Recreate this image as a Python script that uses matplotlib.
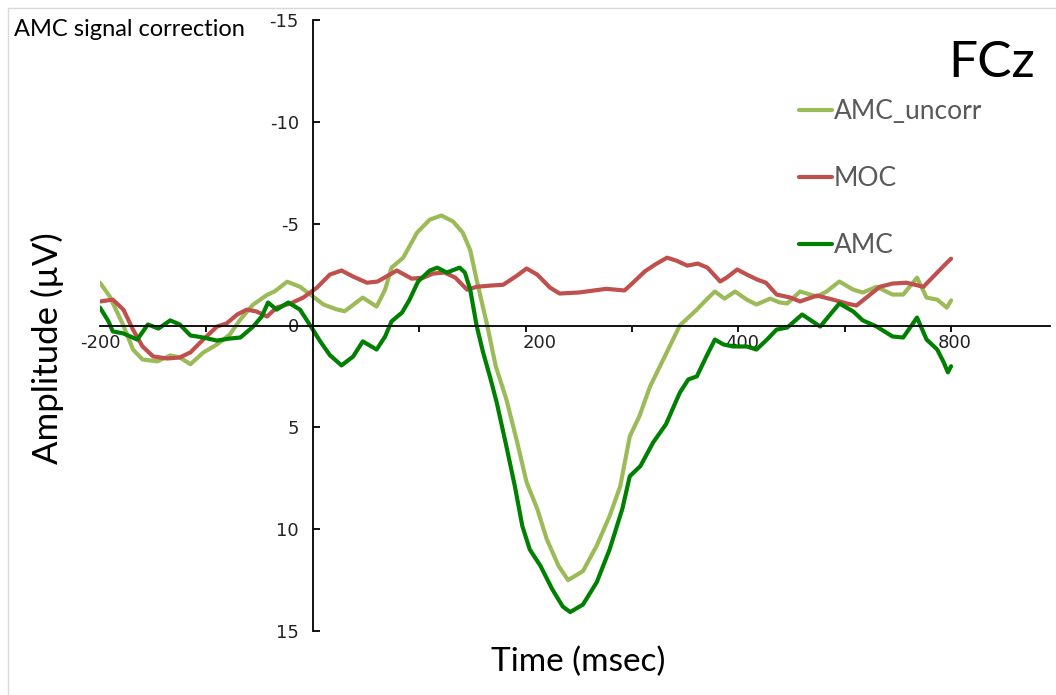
import matplotlib
matplotlib.use("Agg")
import matplotlib.pyplot as plt
from matplotlib.lines import Line2D

plt.rcParams['axes.unicode_minus'] = False

# AMC_uncorr (light green)
t_uncorr = [-200, -191, -178, -169, -160, -146, -134, -125, -115, -103, -90, -78, -68, -56,
            -43, -36, -24, -12, 0, 10, 22, 30, 47, 60, 68, 74, 85, 98, 110, 121, 132, 141,
            148, 154, 164, 172, 182, 192, 201, 211, 220, 231, 240, 254, 267, 279, 289, 298,
            307, 317, 332, 345, 361, 370, 378, 387, 397, 408, 417, 430, 439, 446, 458, 474,
            483, 495, 508, 517, 530, 545, 555, 568, 577, 587, 596, 600]
v_uncorr = [-2.1, -1.44, 0.0, 1.18, 1.67, 1.76, 1.47, 1.57, 1.9, 1.33, 0.93, 0.44, -0.3, -1.03,
            -1.5, -1.67, -2.15, -1.9, -1.43, -1.03, -0.8, -0.7, -1.37, -0.93, -1.76, -2.84, -3.33,
            -4.56, -5.2, -5.4, -5.1, -4.56, -3.7, -2.25, 0.0, 2.0, 3.63, 5.7, 7.7, 9.0, 10.5, 11.8,
            12.5, 12.06, 10.8, 9.36, 7.9, 5.44, 4.46, 3.0, 1.4, 0.0, -0.78, -1.27, -1.67, -1.32,
            -1.67, -1.27, -1.03, -1.32, -1.13, -1.08, -1.67, -1.42, -1.67, -2.16, -1.76, -1.62,
            -1.9, -1.52, -1.52, -2.35, -1.37, -1.27, -0.88, -1.23]

# MOC (red)
t_moc = [-200, -188, -178, -169, -160, -150, -137, -125, -115, -103, -90, -81, -71, -62, -53,
         -43, -34, -21, -9, 4, 16, 27, 38, 51, 61, 79, 93, 104, 113, 124, 134, 145, 154, 167,
         179, 192, 201, 211, 223, 232, 250, 276, 293, 301, 312, 322, 333, 342, 352, 362, 371,
         383, 389, 399, 408, 418, 426, 436, 449, 458, 474, 489, 502, 511, 524, 533, 545, 558,
         574, 587, 596, 600]
v_moc = [-1.18, -1.27, -0.78, 0.2, 1.03, 1.52, 1.62, 1.57, 1.32, 0.69, 0.05, -0.1, -0.54, -0.78,
         -0.69, -0.44, -0.88, -1.08, -1.37, -1.86, -2.5, -2.7, -2.4, -2.1, -2.16, -2.7, -2.3,
         -2.35, -2.55, -2.6, -2.35, -1.76, -1.9, -1.96, -2.0, -2.45, -2.8, -2.5, -1.86, -1.57,
         -1.62, -1.8, -1.72, -2.1, -2.65, -3.0, -3.33, -3.18, -2.94, -3.04, -2.84, -2.16, -2.35,
         -2.75, -2.5, -2.25, -2.1, -1.52, -1.37, -1.18, -1.47, -1.27, -1.08, -0.98, -1.52, -1.9,
         -2.06, -2.1, -1.9, -2.6, -3.08, -3.28]

# AMC (dark green)
t_amc = [-200, -192, -188, -178, -165, -155, -145, -134, -125, -115, -103, -90, -78, -68, -56,
         -48, -42, -34, -23, -12, -3, 7, 16, 27, 38, 47, 60, 68, 74, 84, 91, 99, 110, 117, 126,
         138, 143, 148, 154, 160, 167, 173, 182, 190, 197, 204, 214, 225, 235, 242, 254, 267,
         279, 291, 298, 308, 320, 332, 345, 353, 361, 370, 378, 386, 395, 408, 417, 427, 436,
         446, 460, 477, 495, 508, 517, 530, 545, 555, 568, 577, 587, 593, 597, 600]
v_amc = [-0.88, -0.2, 0.29, 0.39, 0.69, -0.05, 0.15, -0.25, -0.05, 0.49, 0.59, 0.74, 0.64, 0.59,
         0.05, -0.44, -1.13, -0.78, -1.13, -0.78, -0.05, 0.78, 1.45, 1.96, 1.52, 0.78, 1.18, 0.54,
         -0.2, -0.64, -1.27, -2.16, -2.7, -2.84, -2.6, -2.84, -2.6, -1.76, 0.0, 1.3, 2.6, 3.8,
         5.93, 7.9, 9.85, 11.0, 11.8, 12.94, 13.8, 14.07, 13.7, 12.6, 11.0, 9.0, 7.4, 6.9, 5.74,
         4.85, 3.3, 2.65, 2.5, 1.52, 0.69, 0.93, 1.03, 1.03, 1.18, 0.69, 0.2, 0.1, -0.54, 0.05,
         -1.08, -0.69, -0.25, 0.05, 0.54, 0.59, -0.39, 0.69, 1.18, 1.8, 2.3, 2.0]

y_ticks = [-15, -10, -5, 0, 5, 10, 15]
x_label_pos = [-200, 213, 404, 603]
x_label_txt = ['-200', '200', '400', '800']

fig = plt.figure(figsize=(10.56, 6.95), dpi=100)
ax = fig.add_axes([100 / 1056, 1 - 631 / 695, 950 / 1056, 611 / 695])

lw = 3.0
ax.plot(t_uncorr, v_uncorr, color='#9BBB59', lw=lw, label='AMC_uncorr',
        solid_joinstyle='round', solid_capstyle='round')
ax.plot(t_moc, v_moc, color='#C0504D', lw=lw, label='MOC',
        solid_joinstyle='round', solid_capstyle='round')
ax.plot(t_amc, v_amc, color='#008000', lw=lw, label='AMC',
        solid_joinstyle='round', solid_capstyle='round')

ax.set_xlim(-200, 693)
ax.set_ylim(15, -15)

for s in ['top', 'right']:
    ax.spines[s].set_visible(False)
ax.spines['left'].set_position(('data', 0))
ax.spines['bottom'].set_position(('data', 0))
ax.spines['left'].set_linewidth(1.3)
ax.spines['bottom'].set_linewidth(1.3)

ax.set_yticks(y_ticks)
ax.set_yticklabels([str(v) for v in y_ticks], fontsize=13, color='#222222')
ax.tick_params(axis='y', direction='in', length=5, width=1.3, pad=10)

ax.set_xticks(x_label_pos)
ax.set_xticklabels(x_label_txt, fontsize=13, color='#222222')
ax.tick_params(axis='x', which='major', length=0, pad=6)
ax.set_xticks(range(-200, 601, 100), minor=True)
ax.tick_params(axis='x', which='minor', direction='out', length=4, width=1.3)

fig.text(47 / 1056, 1 - 348 / 695, 'Amplitude (µV)', rotation=90, ha='center', va='center',
         fontsize=25, family='Lato')
fig.text(578 / 1056, 1 - 662 / 695, 'Time (msec)', ha='center', va='center',
         fontsize=24, family='Lato')
fig.text(14 / 1056, 1 - 29 / 695, 'AMC signal correction', ha='left', va='center',
         fontsize=17, family='Lato')
fig.text(1035 / 1056, 1 - 63 / 695, 'FCz', ha='right', va='center', fontsize=37, family='Lato')

leg = ax.legend(loc='upper left', bbox_to_anchor=(775 / 1056, 1 - 75 / 695),
                bbox_transform=fig.transFigure, frameon=False, handlelength=1.25,
                handletextpad=0.08, labelspacing=1.6, prop={'family': 'Lato', 'size': 19})
for txt in leg.get_texts():
    txt.set_color('#595959')

fig.add_artist(Line2D([7.5 / 1056, 7.5 / 1056], [0, 1 - 8 / 695], color='#d9d9d9', lw=1))
fig.add_artist(Line2D([7.5 / 1056, 1], [1 - 8 / 695, 1 - 8 / 695], color='#d9d9d9', lw=1))

fig.savefig('out.png', dpi=100, facecolor='white')
